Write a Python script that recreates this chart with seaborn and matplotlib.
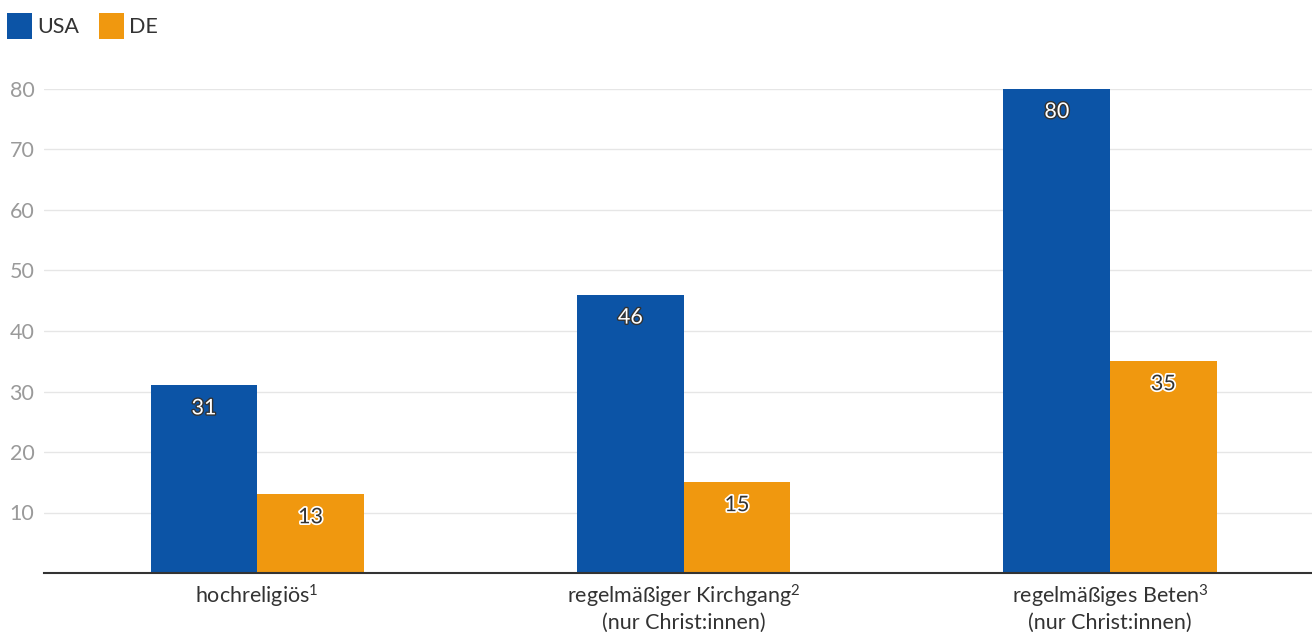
import matplotlib
matplotlib.use("Agg")
import matplotlib.pyplot as plt
import matplotlib.patheffects as pe
from matplotlib.patches import Patch
import seaborn as sns
import pandas as pd

categories = ["hochreligiös$^{1}$", "regelmäßiger Kirchgang$^{2}$\n(nur Christ:innen)",
              "regelmäßiges Beten$^{3}$\n(nur Christ:innen)"]
series = ["USA", "DE"]
usa_values = [31, 46, 80]
de_values = [13, 15, 35]
y_ticks = [10, 20, 30, 40, 50, 60, 70, 80]

BLUE = "#0c54a6"
ORANGE = "#f0980f"
DARK = "#333333"

sns.set_theme(style="white")
plt.rcParams["font.family"] = ["Lato", "DejaVu Sans"]
plt.rcParams["mathtext.fontset"] = "custom"
plt.rcParams["mathtext.rm"] = "Lato"
plt.rcParams["mathtext.it"] = "Lato"
plt.rcParams["mathtext.default"] = "rm"

df = pd.DataFrame({
    "kategorie": categories * 2,
    "land": [series[0]] * len(categories) + [series[1]] * len(categories),
    "wert": usa_values + de_values,
})

W, H = 1312, 632
fig = plt.figure(figsize=(W / 100, H / 100), dpi=100)
ax = fig.add_axes([44 / W, (H - 573) / H, (W - 44) / W, (573 - 89) / H])

sns.barplot(data=df, x="kategorie", y="wert", hue="land", order=categories,
            hue_order=series, palette=[BLUE, ORANGE], width=0.5, saturation=1,
            ax=ax, legend=False, linewidth=0)

ax.set_xlim(-0.5, 2.4736)
ax.set_ylim(0, 80)
ax.set_yticks(y_ticks)
ax.set_xlabel("")
ax.set_ylabel("")
ax.grid(axis="y", color="#e6e6e6", linewidth=1)
ax.set_axisbelow(True)
for s in ["top", "right", "left"]:
    ax.spines[s].set_visible(False)
ax.spines["bottom"].set_color(DARK)
ax.spines["bottom"].set_linewidth(1.5)
ax.tick_params(axis="y", length=0, pad=7, labelsize=15.5, labelcolor="#9a9a9a")
ax.tick_params(axis="x", length=0, pad=7, labelsize=15.5, labelcolor=DARK)
for lbl in ax.get_xticklabels():
    lbl.set_linespacing(1.18)

# value labels just inside the top of each bar
styles = [
    dict(color="white", path_effects=[pe.withStroke(linewidth=2, foreground=DARK)]),
    dict(color=DARK, path_effects=[pe.withStroke(linewidth=2.5, foreground="white")]),
]
for container, values, style in zip(ax.containers, [usa_values, de_values], styles):
    for bar, v in zip(container, values):
        ax.annotate(str(v), (bar.get_x() + bar.get_width() / 2, v),
                    xytext=(0, -16.5), textcoords="offset points",
                    ha="center", va="center", fontsize=15.5, **style)

handles = [Patch(facecolor=BLUE, edgecolor="none"), Patch(facecolor=ORANGE, edgecolor="none")]
fig.legend(handles, series, loc="upper left", bbox_to_anchor=(-0.0025, 0.996),
           ncol=2, frameon=False, fontsize=15.5, labelcolor=DARK,
           handlelength=1.15, handleheight=1.45, handletextpad=0.25,
           columnspacing=0.9, borderaxespad=0.2, borderpad=0.3)

fig.savefig("out.png", dpi=100)
